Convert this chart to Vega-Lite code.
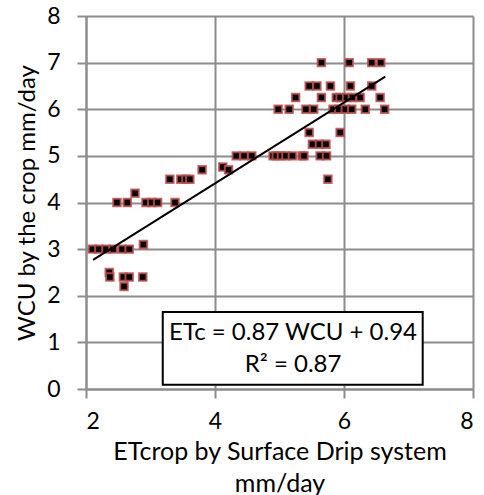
{
  "$schema": "https://vega.github.io/schema/vega-lite/v6.json",
  "width": 387,
  "height": 373,
  "autosize": "none",
  "padding": {"left": 86, "top": 16, "right": 11, "bottom": 106},
  "background": "white",
  "config": {
    "view": {"stroke": null},
    "font": "Lato",
    "axis": {
      "grid": true,
      "gridColor": "#8c8c8c",
      "gridWidth": 2,
      "gridOpacity": 1,
      "domainColor": "#8c8c8c",
      "domainWidth": 2,
      "tickColor": "#8c8c8c",
      "tickWidth": 2,
      "tickSize": 9,
      "labelColor": "#000000",
      "labelFont": "Lato",
      "labelFontSize": 23,
      "titleFont": "Lato",
      "titleFontSize": 25,
      "titleFontWeight": "normal",
      "titleColor": "#000000"
    }
  },
  "layer": [
    {
      "data": {"values": [
        {"x": 2.10, "y": 3}, {"x": 2.20, "y": 3}, {"x": 2.31, "y": 3}, {"x": 2.42, "y": 3}, {"x": 2.56, "y": 3}, {"x": 2.67, "y": 3},
        {"x": 2.89, "y": 3.1}, {"x": 2.36, "y": 2.5}, {"x": 2.37, "y": 2.4}, {"x": 2.58, "y": 2.4}, {"x": 2.67, "y": 2.4}, {"x": 2.88, "y": 2.4},
        {"x": 2.59, "y": 2.2}, {"x": 2.48, "y": 4}, {"x": 2.64, "y": 4}, {"x": 2.93, "y": 4}, {"x": 3.02, "y": 4}, {"x": 3.11, "y": 4},
        {"x": 3.38, "y": 4}, {"x": 2.76, "y": 4.2}, {"x": 3.30, "y": 4.5}, {"x": 3.47, "y": 4.5}, {"x": 3.55, "y": 4.5}, {"x": 3.61, "y": 4.5},
        {"x": 3.80, "y": 4.7}, {"x": 4.12, "y": 4.76}, {"x": 4.21, "y": 4.7}, {"x": 4.33, "y": 5}, {"x": 4.45, "y": 5}, {"x": 4.57, "y": 5},
        {"x": 4.90, "y": 5}, {"x": 4.95, "y": 5}, {"x": 5.03, "y": 5}, {"x": 5.10, "y": 5}, {"x": 5.20, "y": 5}, {"x": 5.35, "y": 5},
        {"x": 5.38, "y": 5}, {"x": 5.63, "y": 5}, {"x": 5.73, "y": 5}, {"x": 5.75, "y": 4.5}, {"x": 5.51, "y": 5.25}, {"x": 5.62, "y": 5.25},
        {"x": 5.72, "y": 5.25}, {"x": 5.46, "y": 5.5}, {"x": 5.94, "y": 5.5}, {"x": 4.98, "y": 6}, {"x": 5.15, "y": 6}, {"x": 5.41, "y": 6},
        {"x": 5.53, "y": 6}, {"x": 5.83, "y": 6}, {"x": 5.92, "y": 6}, {"x": 6.02, "y": 6}, {"x": 6.12, "y": 6}, {"x": 6.33, "y": 6},
        {"x": 6.63, "y": 6}, {"x": 5.25, "y": 6.25}, {"x": 5.65, "y": 6.25}, {"x": 5.88, "y": 6.25}, {"x": 5.94, "y": 6.25}, {"x": 6.04, "y": 6.25},
        {"x": 6.13, "y": 6.25}, {"x": 6.25, "y": 6.25}, {"x": 6.56, "y": 6.25}, {"x": 5.46, "y": 6.5}, {"x": 5.58, "y": 6.5}, {"x": 5.79, "y": 6.5},
        {"x": 6.10, "y": 6.5}, {"x": 6.43, "y": 6.5}, {"x": 5.65, "y": 7}, {"x": 6.08, "y": 7}, {"x": 6.43, "y": 7}, {"x": 6.57, "y": 7}
      ]},
      "mark": {"type": "point", "shape": "square", "filled": false, "fill": "#000000", "fillOpacity": 1, "stroke": "#c0504d", "strokeOpacity": 0.85, "strokeWidth": 2, "size": 56, "opacity": 1},
      "encoding": {
        "x": {"field": "x", "type": "quantitative", "scale": {"domain": [2, 8], "nice": false, "zero": false},
              "axis": {"values": [2, 4, 6, 8], "format": "d", "title": ["ETcrop by Surface Drip system", "mm/day"], "labelPadding": 12, "titlePadding": 6, "titleLineHeight": 32}},
        "y": {"field": "y", "type": "quantitative", "scale": {"domain": [0, 8], "nice": false},
              "axis": {"values": [0, 1, 2, 3, 4, 5, 6, 7, 8], "format": "d", "title": "WCU by the crop mm/day", "titleFontSize": 24, "labelPadding": 17, "titlePadding": 7}}
      }
    },
    {
      "data": {"values": [{"x": 2.11, "y": 2.77}, {"x": 6.64, "y": 6.7}]},
      "mark": {"type": "line", "color": "#000000", "strokeWidth": 2},
      "encoding": {
        "x": {"field": "x", "type": "quantitative"},
        "y": {"field": "y", "type": "quantitative"}
      }
    },
    {
      "data": {"values": [{"label": "box"}]},
      "mark": {"type": "rect", "fill": "#ffffff", "stroke": "#000000", "strokeWidth": 2},
      "encoding": {
        "x": {"datum": 3.19, "type": "quantitative"},
        "x2": {"datum": 7.22},
        "y": {"datum": 1.65, "type": "quantitative"},
        "y2": {"datum": 0.09}
      }
    },
    {
      "data": {"values": [{"label": "eq"}]},
      "mark": {"type": "text", "fontSize": 24, "font": "Lato", "color": "#000000", "align": "center", "baseline": "middle", "lineHeight": 32,
               "text": ["ETc = 0.87 WCU + 0.94", "R² = 0.87"]},
      "encoding": {
        "x": {"datum": 5.21, "type": "quantitative"},
        "y": {"datum": 1.2, "type": "quantitative"}
      }
    }
  ]
}
